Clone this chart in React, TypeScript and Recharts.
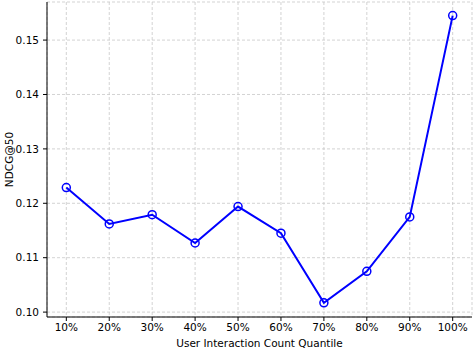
import React from "react";
import { LineChart, Line, XAxis, YAxis, CartesianGrid } from "recharts";

const categories = ["10%", "20%", "30%", "40%", "50%", "60%", "70%", "80%", "90%", "100%"];
const ndcgValues = [0.1229, 0.1162, 0.1179, 0.1127, 0.1194, 0.1145, 0.1017, 0.1075, 0.1175, 0.1545];
const yTicks = [0.10, 0.11, 0.12, 0.13, 0.14, 0.15];
const xTicks = [1, 2, 3, 4, 5, 6, 7, 8, 9, 10];

const data = categories.map((c, i) => ({ idx: i + 1, label: c, value: ndcgValues[i] }));

const FONT = "DejaVu Sans, sans-serif";
const BLUE = "#0000ff";
const FS = 10.5;

const Dot = (props: any) => {
  const { cx, cy } = props;
  if (cx == null || cy == null) return null;
  return <circle cx={cx} cy={cy} r={4} fill="none" stroke={BLUE} strokeWidth={1.5} />;
};

export default function App() {
  return (
    <div style={{ position: "absolute", left: 0, top: 0, width: 476, height: 350, background: "#fff" }}>
      <LineChart width={476} height={350} data={data} margin={{ top: 2, right: 4, left: 0, bottom: 0 }}>
        <CartesianGrid xAxisId="main" yAxisId="main" stroke="#c8c8c8" strokeDasharray="3 2" strokeWidth={0.8} />
        <XAxis
          xAxisId="main"
          dataKey="idx"
          type="number"
          domain={[0.55, 10.45]}
          ticks={xTicks}
          tickFormatter={(v: number) => categories[v - 1]}
          height={33}
          tickSize={4}
          tickMargin={3}
          stroke="#000"
          tick={{ fill: "#000", fontSize: FS, fontFamily: FONT }}
          axisLine={{ stroke: "#000", strokeWidth: 1 }}
          tickLine={{ stroke: "#000" }}
          label={{ value: "User Interaction Count Quantile", position: "insideBottom", offset: 3, fill: "#000", fontSize: FS, fontFamily: FONT }}
        />
        <XAxis xAxisId="top" orientation="top" dataKey="idx" type="number" domain={[0.55, 10.45]} height={0} tick={false} tickLine={false} axisLine={{ stroke: "#000", strokeWidth: 1 }} />
        <YAxis
          yAxisId="main"
          type="number"
          domain={[0.0991, 0.157]}
          ticks={yTicks}
          tickFormatter={(v: number) => v.toFixed(2)}
          width={47}
          tickSize={4}
          tickMargin={4}
          stroke="#000"
          tick={{ fill: "#000", fontSize: FS, fontFamily: FONT }}
          axisLine={{ stroke: "#000", strokeWidth: 1 }}
          tickLine={{ stroke: "#000" }}
          label={{ value: "NDCG@50", angle: -90, position: "insideLeft", offset: 9, fill: "#000", fontSize: FS, fontFamily: FONT, style: { textAnchor: "middle" } }}
        />
        <YAxis yAxisId="right" orientation="right" domain={[0.0991, 0.157]} width={0} tick={false} tickLine={false} axisLine={{ stroke: "#000", strokeWidth: 1 }} />
        <Line
          xAxisId="main"
          yAxisId="main"
          dataKey="value"
          type="linear"
          stroke={BLUE}
          strokeWidth={2}
          dot={<Dot />}
          activeDot={false}
          isAnimationActive={false}
        />
      </LineChart>
    </div>
  );
}
